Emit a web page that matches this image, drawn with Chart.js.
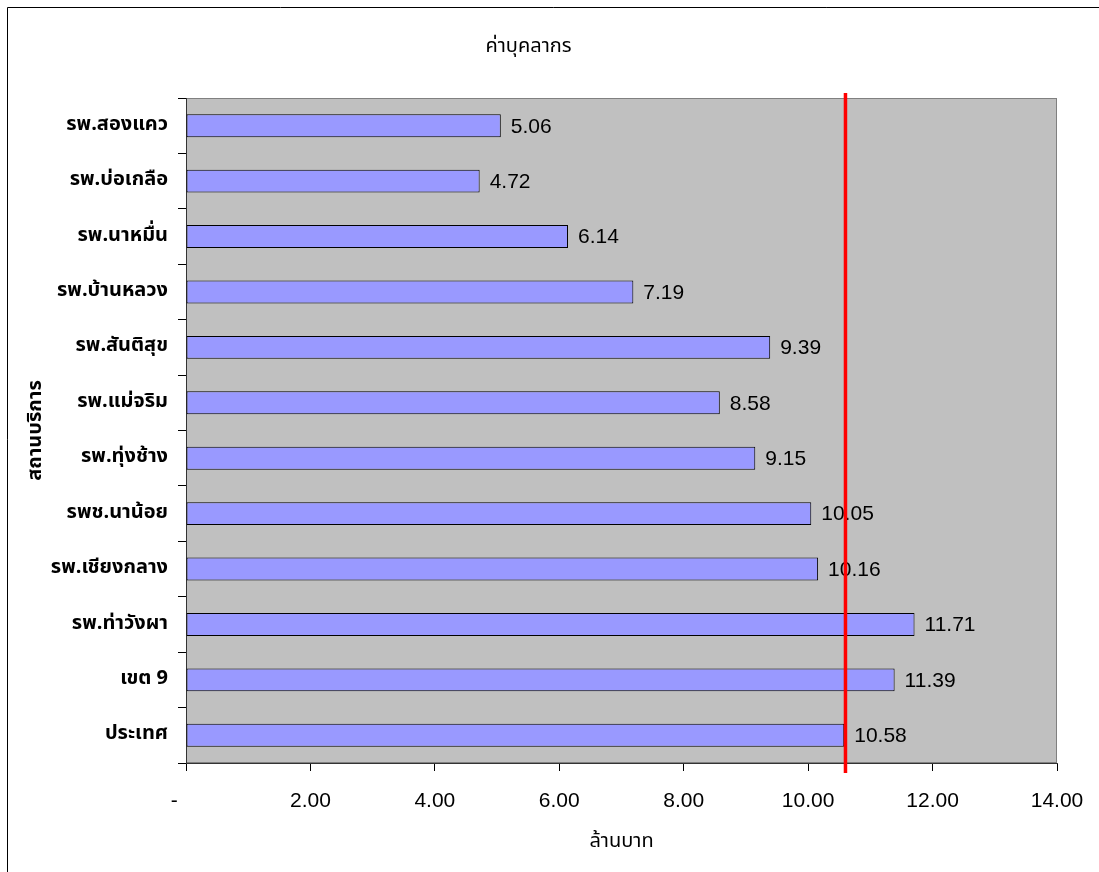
<!DOCTYPE html>
<html>
<head>
<meta charset="utf-8">
<script src="https://cdn.jsdelivr.net/npm/chart.js@4"></script>
<style>
  html, body { margin: 0; padding: 0; background: #fff; }
  canvas { display: block; }
</style>
</head>
<body>
<canvas id="c" width="1099" height="872"></canvas>
<script>
const chartTitle = 'ค่าบุคลากร';
const yAxisTitle = 'สถานบริการ';
const xAxisTitle = 'ล้านบาท';
const categories = ['รพ.สองแคว', 'รพ.บ่อเกลือ', 'รพ.นาหมื่น', 'รพ.บ้านหลวง', 'รพ.สันติสุข', 'รพ.แม่จริม', 'รพ.ทุ่งช้าง', 'รพช.นาน้อย', 'รพ.เชียงกลาง', 'รพ.ท่าวังผา', 'เขต 9', 'ประเทศ'];
const values = [5.06, 4.72, 6.14, 7.19, 9.39, 8.58, 9.15, 10.05, 10.16, 11.71, 11.39, 10.58];
const referenceValue = 10.6;
const xMin = 0, xMax = 14, xStep = 2;

const numFont = "'Liberation Sans', Arial, sans-serif";
const thaiFont = "'Noto Sans Thai', 'Liberation Sans', sans-serif";

const frame = {
  id: 'frame',
  beforeDraw(chart) {
    const {ctx, chartArea: a} = chart;
    ctx.save();
    ctx.fillStyle = '#fff';
    ctx.fillRect(0, 0, chart.width, chart.height);
    ctx.strokeStyle = '#000';
    ctx.lineWidth = 1;
    ctx.beginPath();
    ctx.moveTo(7.5, chart.height); ctx.lineTo(7.5, 7.5); ctx.lineTo(chart.width, 7.5);
    ctx.stroke();
    ctx.fillStyle = '#C0C0C0';
    ctx.fillRect(a.left, a.top, a.right - a.left, a.bottom - a.top);
    ctx.strokeStyle = '#808080';
    ctx.strokeRect(a.left + 0.5, a.top + 0.5, a.right - a.left - 1, a.bottom - a.top - 1);
    ctx.restore();
  },
  afterDatasetsDraw(chart) {
    const {ctx} = chart;
    const meta = chart.getDatasetMeta(0);
    ctx.save();
    ctx.fillStyle = '#000';
    ctx.font = "21px " + numFont;
    ctx.textAlign = 'left';
    ctx.textBaseline = 'middle';
    meta.data.forEach((el, i) => {
      ctx.fillText(values[i].toFixed(2), el.x + 10, el.y + 1);
    });
    const x = chart.scales.x.getPixelForValue(referenceValue);
    ctx.strokeStyle = '#FF0000';
    ctx.lineWidth = 3.5;
    ctx.beginPath();
    ctx.moveTo(x, chart.chartArea.top - 5);
    ctx.lineTo(x, chart.chartArea.bottom + 10);
    ctx.stroke();
    ctx.restore();
  }
};

new Chart(document.getElementById('c'), {
  type: 'bar',
  data: {
    labels: categories,
    datasets: [{
      data: values,
      backgroundColor: '#9999FF',
      borderColor: '#000',
      borderWidth: 1,
      borderSkipped: false,
      barPercentage: 0.415,
      categoryPercentage: 1
    }]
  },
  options: {
    indexAxis: 'y',
    responsive: false,
    animation: false,
    devicePixelRatio: 1,
    layout: { padding: { left: 0, right: 42, top: 0, bottom: 0 } },
    plugins: {
      legend: { display: false },
      tooltip: { enabled: false },
      title: {
        display: true,
        text: chartTitle,
        color: '#000',
        font: { family: thaiFont, size: 20, weight: 'normal', lineHeight: 1.2 },
        padding: { top: 36, bottom: 38 }
      }
    },
    scales: {
      x: {
        min: xMin, max: xMax,
        afterFit(s) { s.height = 109; s.paddingRight = 0; s.paddingLeft = 0; },
        ticks: {
          stepSize: xStep,
          color: '#000',
          padding: 18,
          maxRotation: 0,
          font: { family: numFont, size: 21 },
          callback: v => v === 0 ? '-    ' : v.toFixed(2)
        },
        grid: { drawOnChartArea: false, drawTicks: true, tickLength: 8, color: '#000' },
        border: { color: '#333', width: 1 },
        title: {
          display: true, text: xAxisTitle, color: '#000',
          font: { family: thaiFont, size: 20, weight: 'normal', lineHeight: 1.2 },
          padding: { top: 0, bottom: 17 }
        }
      },
      y: {
        afterFit(s) { s.width = 186; },
        ticks: {
          color: '#000',
          padding: 10,
          font: { family: thaiFont, size: 20, weight: 'bold' }
        },
        grid: { drawOnChartArea: false, drawTicks: true, tickLength: 8, color: '#000', offset: true },
        border: { color: '#333', width: 1 },
        title: {
          display: true, text: yAxisTitle, color: '#000',
          font: { family: thaiFont, size: 20, weight: 'bold', lineHeight: 1.2 },
          padding: { top: 25, bottom: 0 }
        }
      }
    }
  },
  plugins: [frame]
});
</script>
</body>
</html>
